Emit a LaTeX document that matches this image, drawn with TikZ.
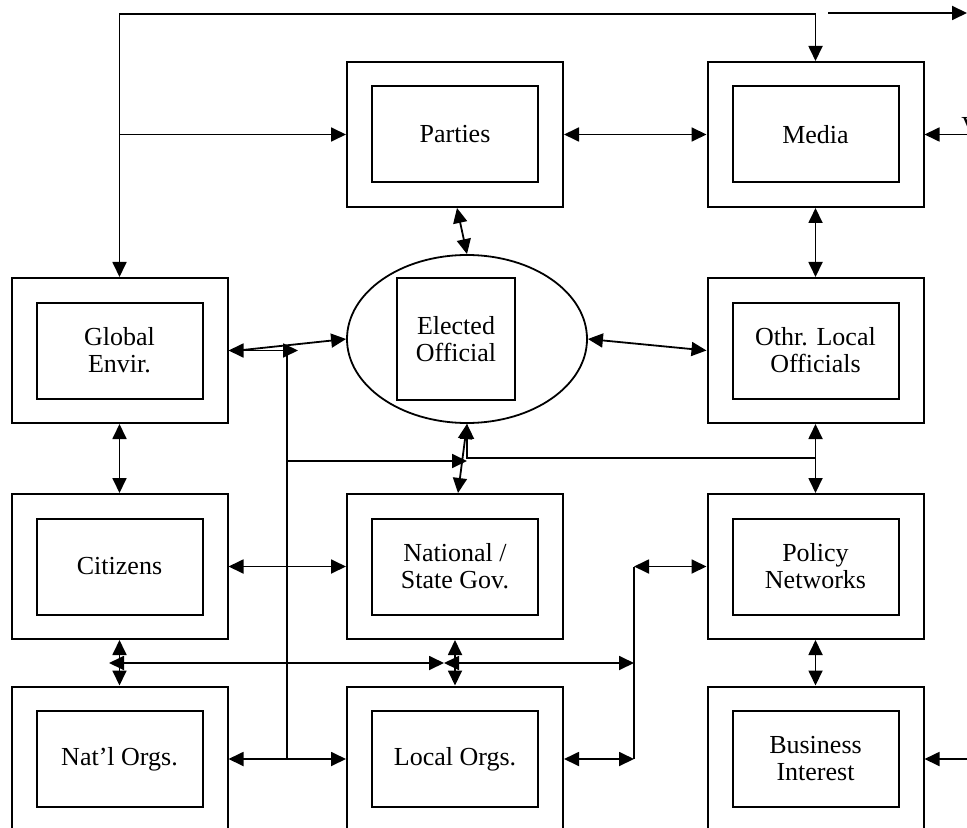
\documentclass[tikz,border=0pt]{standalone}
\usepackage{fontspec}
\setmainfont{Liberation Serif}
\usetikzlibrary{arrows.meta,shapes.geometric,calc}
\begin{document}
\begin{tikzpicture}[x=0.5pt,y=-0.5pt,
  >={Triangle[length=7.5pt,width=7pt]},
  outerbox/.style={draw,line width=1pt,minimum width=108pt,minimum height=72.5pt,inner sep=0pt},
  innerbox/.style={draw,line width=1pt,minimum width=83pt,minimum height=48pt,inner sep=0pt,align=center,
    font=\fontsize{13}{13.5}\selectfont},
  conn/.style={line width=0.9pt}]
\useasboundingbox (0,0) rectangle (967,828);
% boxes
\node[outerbox] (parO) at (455,134.5) {};
\node[innerbox] (par) at (455,134.5) {Parties};
\node[outerbox] (medO) at (815.5,134.5) {};
\node[innerbox] (med) at (815.5,134.5) {Media};
\node[outerbox] (globO) at (119.5,350.5) {};
\node[innerbox] (glob) at (119.5,350.5) {Global\\Envir.};
\node[draw,ellipse,line width=0.9pt,minimum width=120pt,minimum height=84pt,inner sep=0pt] (ell) at (467,339) {};
\node[draw,line width=1pt,minimum width=59pt,minimum height=61pt,inner sep=0pt,align=center,
    font=\fontsize{13}{13.5}\selectfont] (elec) at (456,339) {Elected\\Official};
\node[outerbox] (othO) at (815.5,350.5) {};
\node[innerbox] (oth) at (815.5,350.5) {Othr. Local\\Officials};
\node[outerbox] (citO) at (119.5,566.5) {};
\node[innerbox] (cit) at (119.5,566.5) {Citizens};
\node[outerbox] (natO) at (455,566.5) {};
\node[innerbox] (nat) at (455,566.5) {National /\\State Gov.};
\node[outerbox] (polO) at (815.5,566.5) {};
\node[innerbox] (pol) at (815.5,566.5) {Policy\\Networks};
\node[outerbox] (natlO) at (119.5,759) {};
\node[innerbox] (natl) at (119.5,759) {Nat’l Orgs.};
\node[outerbox] (locO) at (455,759) {};
\node[innerbox] (loc) at (455,759) {Local Orgs.};
\node[outerbox] (busO) at (815.5,759) {};
\node[innerbox] (bus) at (815.5,759) {Business\\Interest};
\node[anchor=north west,inner sep=0pt,font=\fontsize{13}{13.5}\selectfont] (vtxt) at (961,117) {V};
% coordinates
\coordinate (tl) at (119.5,14);
\coordinate (tr) at (815.5,14);
\coordinate (outA) at (828,13);
\coordinate (outB) at (967,13);
\coordinate (pin) at (119.5,134.5);
\coordinate (medIn) at (967,134.5);
\coordinate (vl1) at (298,350.5);
\coordinate (g2) at (238,350.5);
\coordinate (vtop) at (287,347);
\coordinate (vbot) at (287,759);
\coordinate (h1a) at (287,461);
\coordinate (h1b) at (467,461);
\coordinate (j2) at (815.5,458);
\coordinate (j1) at (ell.south |- j2);
\coordinate (v2top) at (634,566.5);
\coordinate (v2bot) at (634,759);
\coordinate (hA) at (109,663);
\coordinate (hB) at (444,663);
\coordinate (hC) at (634,663);
\coordinate (busIn) at (967,759);
% connectors
\draw[conn,<->] (globO.north) -- (tl) -- (tr) -- (medO.north);
\draw[conn,->] (outA) -- (outB);
\draw[conn,->] (pin) -- (parO.west);
\draw[conn,<->] (parO.east) -- (medO.west);
\draw[conn,->] (medIn) -- (medO.east);
\draw[conn,<->] ([xshift=1pt]parO.south) -- (ell.north);
\draw[conn,<->] (medO.south) -- (othO.north);
\draw[conn,<->] (globO.east) -- (vl1);
\draw[conn,->] (g2) -- (ell.west);
\draw[conn] (vtop) -- (vbot);
\draw[conn,<->] (ell.east) -- (othO.west);
\draw[conn,->] (h1a) -- (h1b);
\draw[conn,<->] (ell.south) -- ([xshift=1.5pt]natO.north);
\draw[conn,->] (j2) -- (j1) -- (ell.south);
\draw[conn,<->] (othO.south) -- (polO.north);
\draw[conn,<->] (globO.south) -- (citO.north);
\draw[conn,<->] (citO.east) -- (natO.west);
\draw[conn,<->] (v2top) -- (polO.west);
\draw[conn] (v2top) -- (v2bot);
\draw[conn,<->] (locO.east) -- (v2bot);
\draw[conn,<->] (natlO.east) -- (locO.west);
\draw[conn,<->] (hA) -- (hB);
\draw[conn,<->] (hB) -- (hC);
\draw[conn,<->] (citO.south) -- (natlO.north);
\draw[conn,<->] (natO.south) -- (locO.north);
\draw[conn,<->] (polO.south) -- (busO.north);
\draw[conn,->] (busIn) -- (busO.east);
\end{tikzpicture}
\end{document}
